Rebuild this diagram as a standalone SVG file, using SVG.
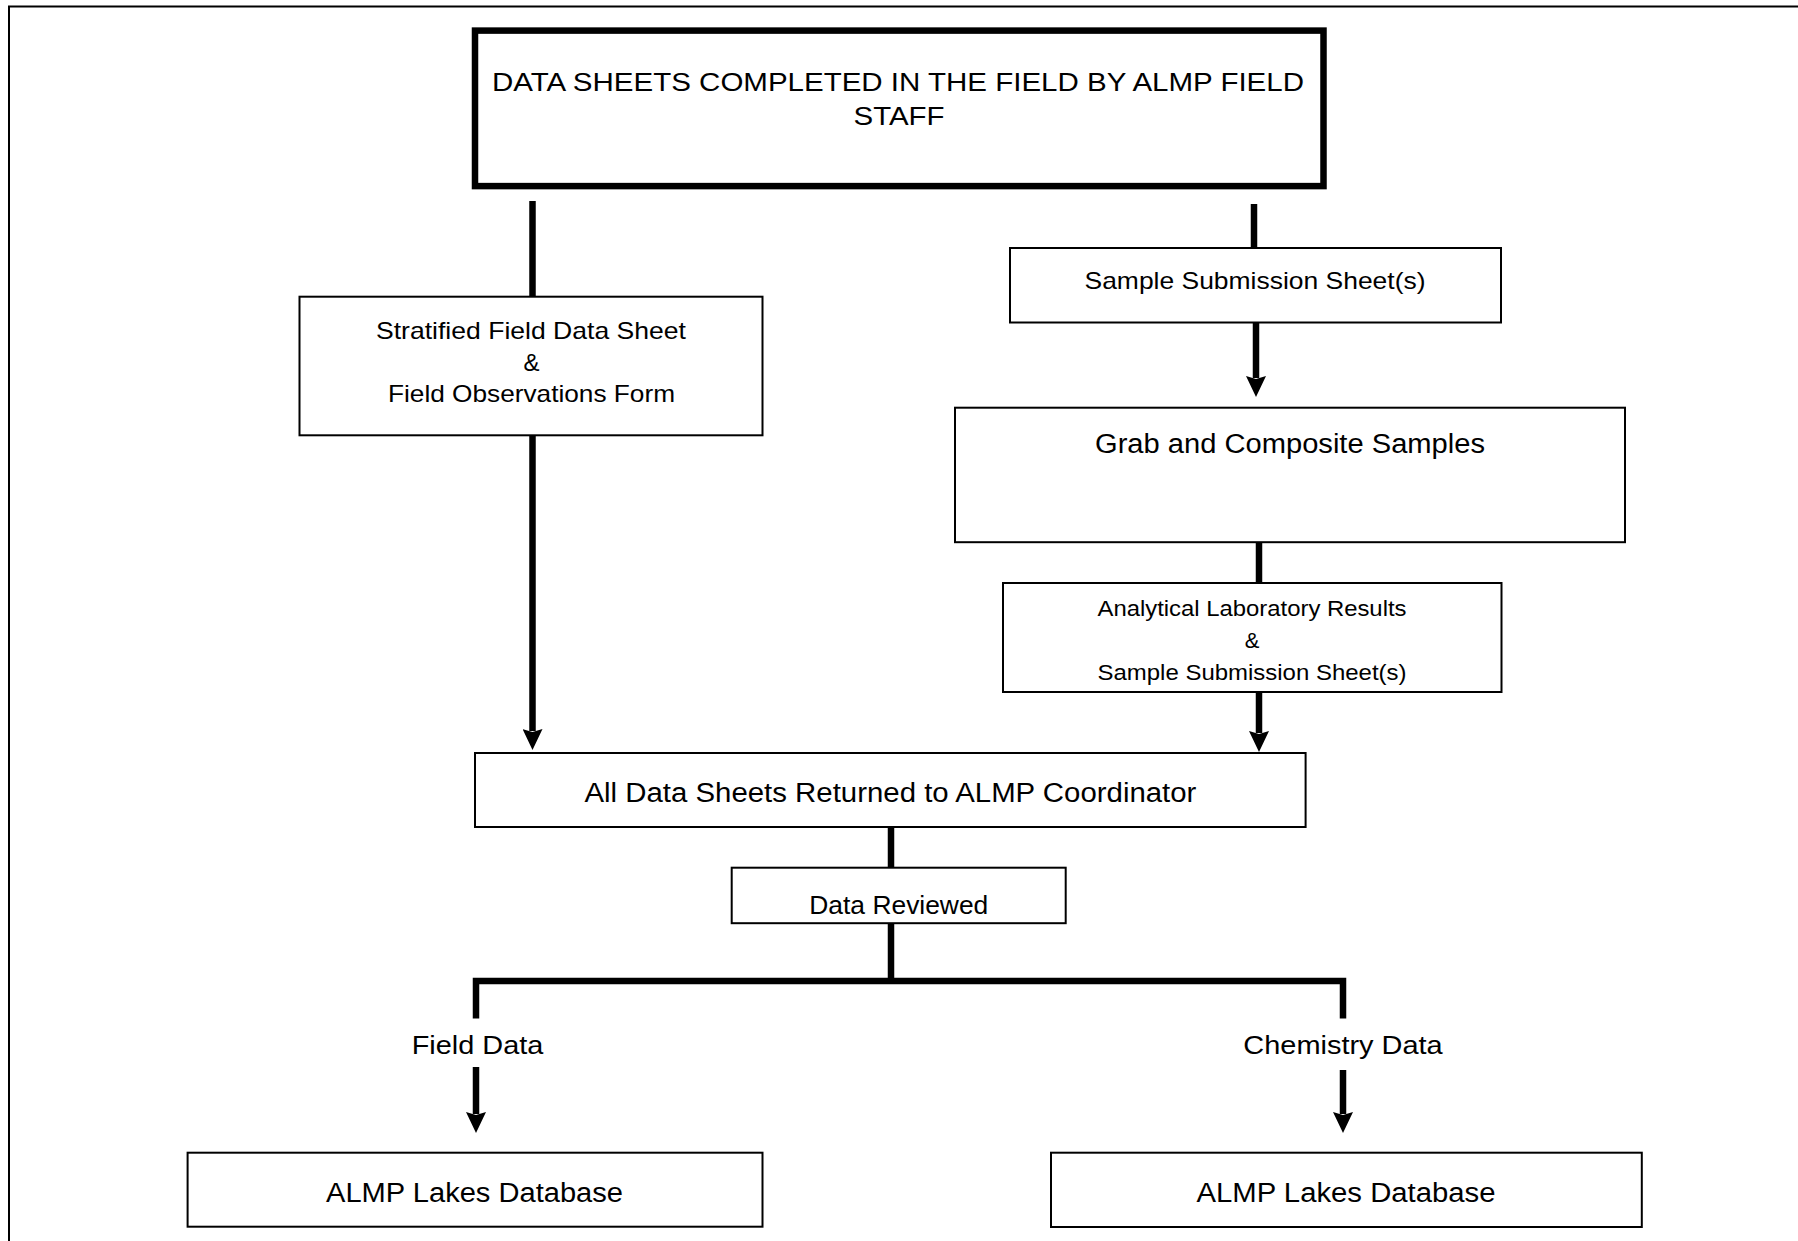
<svg xmlns="http://www.w3.org/2000/svg" width="1798" height="1241" viewBox="0 0 1798 1241">
<style>
.box{fill:#fff;stroke:#000;stroke-width:2}
.thick{stroke-width:6.5}
.conn{fill:none;stroke:#000;stroke-width:6.5;stroke-linejoin:miter}
.frame{fill:none;stroke:#000;stroke-width:2}
text{font-family:"Liberation Sans",Arial,sans-serif;fill:#000;text-anchor:middle}
</style>
<defs>
<marker id="ah" markerUnits="userSpaceOnUse" markerWidth="22" markerHeight="20" viewBox="0 0 22 20" refX="2" refY="10" orient="auto">
<path d="M0,0 L21,10 L0,20 L3,10 z" fill="#000"/>
</marker>
</defs>
<rect x="0" y="0" width="1798" height="1241" fill="#fff"/>
<path class="frame" d="M9,1245 V6.5 H1800"/>

<g id="connectors">
<path class="conn" d="M532.5,201 V297"/>
<path class="conn" d="M1254,204 V248"/>
<path class="conn" d="M1256,323 V378" marker-end="url(#ah)"/>
<path class="conn" d="M532.5,436 V731" marker-end="url(#ah)"/>
<path class="conn" d="M1259,543 V583"/>
<path class="conn" d="M1259,693 V733" marker-end="url(#ah)"/>
<path class="conn" d="M891,828 V867"/>
<path class="conn" d="M891,924 V981"/>
<path class="conn" d="M476,1018.5 V981 H1343 V1018.5"/>
<path class="conn" d="M476,1067 V1114" marker-end="url(#ah)"/>
<path class="conn" d="M1343,1070 V1114" marker-end="url(#ah)"/>
</g>

<g id="top">
<rect class="box thick" x="475" y="30.6" width="848.5" height="155.5"/>
<text x="898" y="90.5" font-size="26" textLength="812" lengthAdjust="spacingAndGlyphs">DATA SHEETS COMPLETED IN THE FIELD BY ALMP FIELD</text>
<text x="899" y="124.5" font-size="26" textLength="91" lengthAdjust="spacingAndGlyphs">STAFF</text>
</g>

<g id="stratified">
<rect class="box" x="299.5" y="296.7" width="463" height="138.6"/>
<text x="531" y="339.4" font-size="24" textLength="310" lengthAdjust="spacingAndGlyphs">Stratified Field Data Sheet</text>
<text x="531.5" y="371" font-size="24">&amp;</text>
<text x="531.5" y="401.5" font-size="24" textLength="287" lengthAdjust="spacingAndGlyphs">Field Observations Form</text>
</g>

<g id="sample-submission">
<rect class="box" x="1010" y="248" width="491" height="74.5"/>
<text x="1255" y="288.5" font-size="24" textLength="341" lengthAdjust="spacingAndGlyphs">Sample Submission Sheet(s)</text>
</g>

<g id="grab">
<rect class="box" x="955" y="407.7" width="670" height="134.5"/>
<text x="1290" y="453" font-size="27" textLength="390" lengthAdjust="spacingAndGlyphs">Grab and Composite Samples</text>
</g>

<g id="analytical">
<rect class="box" x="1003" y="583" width="498.5" height="109"/>
<text x="1252" y="616" font-size="22" textLength="309" lengthAdjust="spacingAndGlyphs">Analytical Laboratory Results</text>
<text x="1252" y="648" font-size="22">&amp;</text>
<text x="1252" y="680" font-size="22" textLength="309" lengthAdjust="spacingAndGlyphs">Sample Submission Sheet(s)</text>
</g>

<g id="all-data">
<rect class="box" x="475" y="753" width="830.6" height="74"/>
<text x="890.4" y="802" font-size="27" textLength="612" lengthAdjust="spacingAndGlyphs">All Data Sheets Returned to ALMP Coordinator</text>
</g>

<g id="data-reviewed">
<rect class="box" x="731.7" y="867.7" width="334" height="55.5"/>
<text x="898.8" y="914" font-size="26.5" textLength="179" lengthAdjust="spacingAndGlyphs">Data Reviewed</text>
</g>

<g id="field-data-label">
<text x="477.5" y="1053.5" font-size="26.5" textLength="131.6" lengthAdjust="spacingAndGlyphs">Field Data</text>
</g>

<g id="chemistry-data-label">
<text x="1343" y="1053.5" font-size="26.5" textLength="199.3" lengthAdjust="spacingAndGlyphs">Chemistry Data</text>
</g>

<g id="db-left">
<rect class="box" x="187.6" y="1152.7" width="574.9" height="74"/>
<text x="474.5" y="1202" font-size="27" textLength="297" lengthAdjust="spacingAndGlyphs">ALMP Lakes Database</text>
</g>

<g id="db-right">
<rect class="box" x="1051" y="1152.7" width="590.8" height="74.3"/>
<text x="1346" y="1202" font-size="27" textLength="299" lengthAdjust="spacingAndGlyphs">ALMP Lakes Database</text>
</g>
</svg>
